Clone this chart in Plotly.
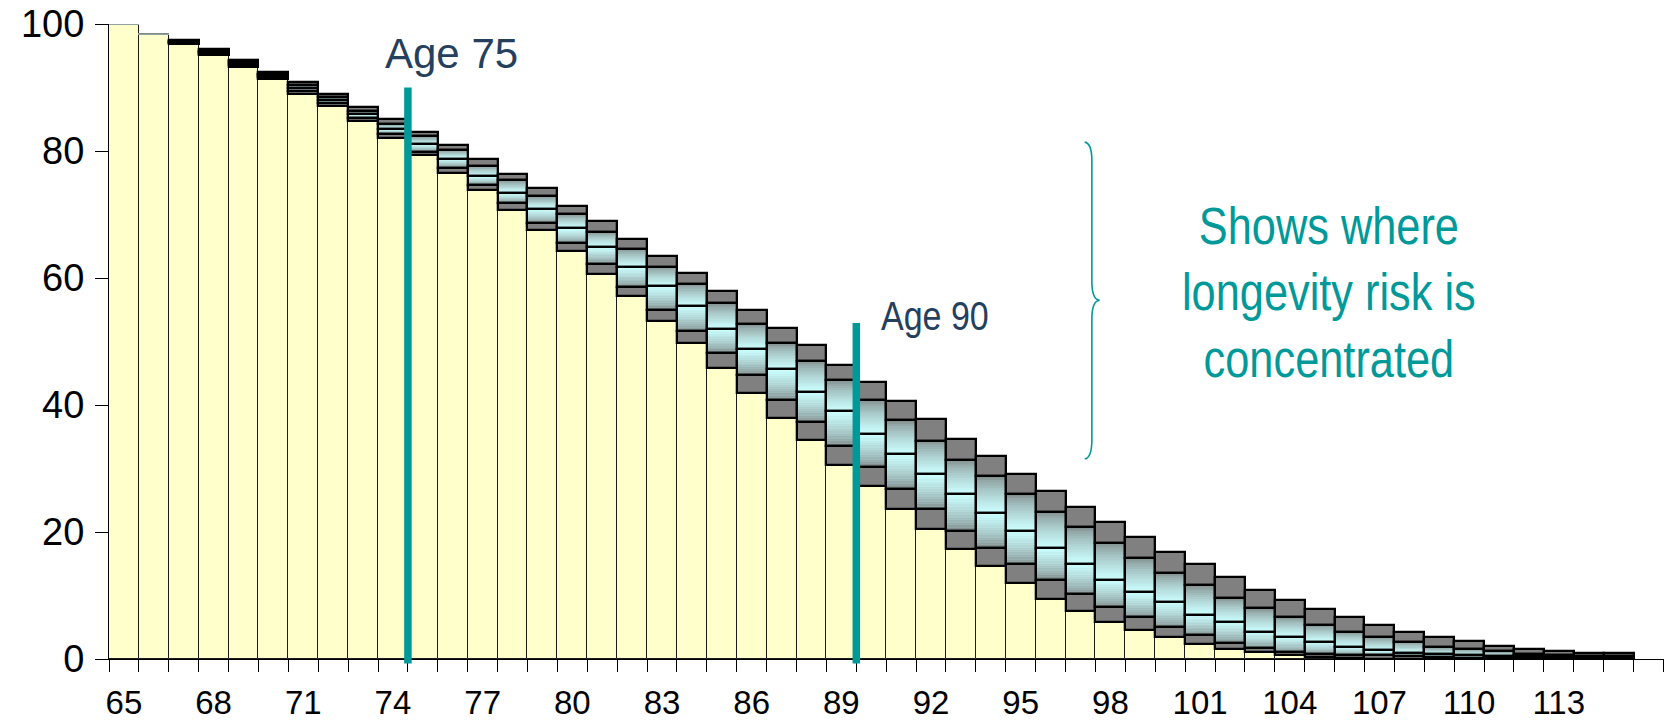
import plotly.graph_objects as go
import numpy as np

# ---------------- data ----------------
ages = list(range(65, 116))

# lower bound of the fan (top of the yellow bar)
p_low = [100, 98.4, 96.8, 95.1, 93.2, 91.3, 89.0, 87.1, 84.7, 82.0,
         79.3, 76.5, 73.9, 70.7, 67.6, 64.2, 60.7, 57.2, 53.2, 49.8,
         45.8, 41.9, 38.0, 34.5, 30.6, 27.2, 23.6, 20.5, 17.4, 14.6,
         11.9, 9.5, 7.6, 5.8, 4.6, 3.4, 2.3, 1.5, 1.1, 0.6,
         0.25, 0.15, 0.05, 0.03, 0.02, 0.01, 0, 0, 0, 0, 0]
# top of the lower grey band
p_q1 = [100, 98.4, 97.0, 95.3, 93.5, 91.6, 89.5, 87.5, 85.2, 82.7,
        79.9, 77.4, 74.7, 71.8, 68.7, 65.5, 62.2, 58.6, 55.0, 51.6,
        48.2, 44.8, 40.8, 37.3, 33.5, 30.3, 26.8, 23.6, 20.2, 17.5,
        14.9, 12.5, 10.2, 8.2, 6.6, 5.0, 3.8, 2.5, 1.7, 1.1,
        0.8, 0.6, 0.57, 0.4, 0.3, 0.2, 0.15, 0.1, 0.1, 0.05, 0.05]
# median line
p_med = [100, 98.4, 97.15, 95.55, 93.8, 91.9, 90.0, 88.0, 85.8, 83.5,
         81.1, 78.8, 76.0, 73.4, 70.9, 67.8, 64.9, 61.7, 58.7, 55.6,
         52.0, 48.8, 45.6, 42.1, 39.0, 35.5, 32.3, 29.1, 26.0, 23.0,
         20.2, 17.5, 15.0, 12.5, 10.5, 9.0, 7.0, 5.9, 4.3, 3.5,
         2.7, 1.9, 1.35, 0.9, 0.75, 0.6, 0.5, 0.4, 0.3, 0.25, 0.25]
# bottom of the upper grey band
p_q3 = [100, 98.4, 97.3, 95.8, 94.1, 92.1, 90.4, 88.5, 86.3, 84.3,
        82.3, 80.2, 77.7, 75.4, 72.9, 70.1, 67.3, 64.6, 61.8, 59.1,
        56.0, 52.8, 49.8, 47.0, 43.9, 40.8, 37.6, 34.4, 31.4, 28.8,
        26.0, 23.2, 20.8, 18.3, 15.9, 13.6, 11.6, 9.6, 8.0, 6.6,
        5.4, 4.3, 3.5, 2.7, 1.9, 1.6, 1.2, 0.8, 0.6, 0.5, 0.5]
# upper bound of the fan
p_high = [100, 98.4, 97.5, 96.0, 94.4, 92.4, 90.9, 88.9, 86.9, 85.0,
          83.0, 81.0, 78.7, 76.4, 74.1, 71.4, 68.9, 66.2, 63.5, 60.8,
          58.0, 54.9, 52.2, 49.5, 46.3, 43.6, 40.6, 37.8, 34.7, 31.9,
          29.2, 26.4, 24.0, 21.5, 19.2, 16.8, 14.9, 12.9, 10.9, 9.3,
          7.8, 6.6, 5.4, 4.3, 3.5, 2.8, 2.0, 1.6, 1.3, 0.9, 0.9]

x_labels = list(range(65, 114, 3))
y_ticks = [0, 20, 40, 60, 80, 100]
marker_ages = [75, 90]
marker_tops = [90.0, 52.9]
note_text = "Shows where<br>longevity risk is<br>concentrated"

# ---------------- styling ----------------
YELLOW = "#FFFFCC"
GREY = "#808080"
TEAL = "#009999"
NAVY = "#24405C"
C_GREY = np.array([118, 126, 126])
C_CYAN = np.array([204, 255, 255])
SANS = "Liberation Sans, Arial, sans-serif"

lo = np.array(p_low, float)
q1 = np.array(p_q1, float)
md = np.array(p_med, float)
q3 = np.array(p_q3, float)
hi = np.array(p_high, float)
has_band = np.array([h - l > 0 for h, l in zip(p_high, p_low)])


def mix(t):
    c = C_GREY + (C_CYAN - C_GREY) * t
    return "rgb(%d,%d,%d)" % tuple(np.round(c).astype(int))


fig = go.Figure()
common = dict(x=ages, width=1, hoverinfo="skip", showlegend=False)

# yellow base bars
fig.add_bar(y=lo, base=np.zeros_like(lo),
            marker=dict(color=YELLOW, line=dict(color="#1a1a1a", width=1)), **common)
# lower grey band
fig.add_bar(y=q1 - lo, base=lo, marker=dict(color=GREY, line=dict(color=GREY, width=0.5)), **common)

# gradient bands (grey at the outside, light cyan at the median)
n = 14
for k in range(n):
    t = ((k + 0.5) / n) ** 0.6
    col = mix(t)
    fig.add_bar(y=(md - q1) / n, base=q1 + (md - q1) * k / n,
                marker=dict(color=col, line=dict(color=col, width=0.6)), **common)
for k in range(n):
    t = (1 - (k + 0.5) / n) ** 0.6
    col = mix(t)
    fig.add_bar(y=(q3 - md) / n, base=md + (q3 - md) * k / n,
                marker=dict(color=col, line=dict(color=col, width=0.6)), **common)
# upper grey band
fig.add_bar(y=hi - q3, base=q3, marker=dict(color=GREY, line=dict(color=GREY, width=0.5)), **common)

# black outlines of each band segment
for b0, b1 in [(lo, q1), (q1, md), (md, q3), (q3, hi)]:
    hh = [float(v1 - v0) if hb else None for v0, v1, hb in zip(b0, b1, has_band)]
    bb = [float(v0) if hb else None for v0, hb in zip(b0, has_band)]
    fig.add_bar(y=hh, base=bb,
                marker=dict(color="rgba(0,0,0,0)", line=dict(color="black", width=2.3)), **common)

x_range = [ages[0] - 0.5, ages[-1] + 1.52]
span = x_range[1] - x_range[0]

# teal age markers (at the left edge of the age's bar)
for a, top in zip(marker_ages, marker_tops):
    xp = (a - 0.5 - x_range[0]) / span
    fig.add_shape(type="line", xref="paper", yref="paper",
                  x0=xp, x1=xp, y0=-0.007, y1=top / 100.0,
                  line=dict(color=TEAL, width=7.5), layer="above")

fig.add_annotation(x=73.66, y=95.4, xref="x", yref="y", text="Age 75",
                   showarrow=False, xanchor="left", yanchor="middle",
                   font=dict(family=SANS, size=42, color=NAVY))
fig.add_annotation(x=90.27, y=54.0, xref="x", yref="y", text="Age 90",
                   showarrow=False, xanchor="left", yanchor="middle",
                   font=dict(family=SANS, size=40, color=NAVY))
fig.add_annotation(x=105.3, y=57.6, xref="x", yref="y", text=note_text,
                   showarrow=False, xanchor="center", yanchor="middle", align="center",
                   font=dict(family=SANS, size=51, color=TEAL))

# curly brace
bx0, bx1, bx2 = 97.14, 97.38, 97.64
fig.add_shape(type="path", xref="x", yref="y",
              path=(f"M {bx0},81.4 Q {bx1},81.2 {bx1},78.5 L {bx1},59.5 "
                    f"Q {bx1},56.6 {bx2},56.5 Q {bx1},56.4 {bx1},53.5 "
                    f"L {bx1},34.5 Q {bx1},31.7 {bx0},31.5"),
              line=dict(color=TEAL, width=1.6))

fig.update_layout(
    width=1664, height=721,
    margin=dict(l=109, r=0, t=24, b=62),
    plot_bgcolor="white", paper_bgcolor="white",
    barmode="overlay", bargap=0, showlegend=False,
)
fig.update_xaxes(
    range=x_range, tickmode="array", tickvals=x_labels,
    ticktext=[str(a) for a in x_labels], ticks="",
    showline=True, linecolor="black", linewidth=1,
    showgrid=False, zeroline=False,
    tickfont=dict(family=SANS, size=33, color="black"),
    ticklabelstandoff=14,
    minor=dict(tickmode="array", tickvals=[a - 0.5 for a in ages + [ages[-1] + 1, ages[-1] + 2]],
               ticks="outside", ticklen=12, tickcolor="black", tickwidth=1, showgrid=False),
)
fig.update_yaxes(
    range=[0, 100], tickmode="array", tickvals=y_ticks,
    ticks="outside", ticklen=13, tickcolor="black", tickwidth=1,
    showline=True, linecolor="black", linewidth=1,
    showgrid=False, zeroline=False,
    tickfont=dict(family=SANS, size=38, color="black"),
    ticklabelstandoff=3,
)

# condense the two narrow-font labels horizontally (the reference uses a condensed face)
post = """
document.body.style.margin='0';
document.body.style.overflow='hidden';
try {
  document.querySelectorAll('text.annotation-text').forEach(function(t){
    var s = t.textContent || '';
    var isAge = s.indexOf('Age 90') >= 0, isNote = s.indexOf('Shows') >= 0;
    if (!isAge && !isNote) return;
    var b = t.getBBox();
    var cx = isAge ? b.x : b.x + b.width / 2;
    var old = t.getAttribute('transform') || '';
    t.setAttribute('transform', old + ' translate(' + cx + ',0) scale(0.85,1) translate(' + (-cx) + ',0)');
  });
} catch (e) {}
"""

fig.write_html("out.html", post_script=post, config={"displayModeBar": False})
